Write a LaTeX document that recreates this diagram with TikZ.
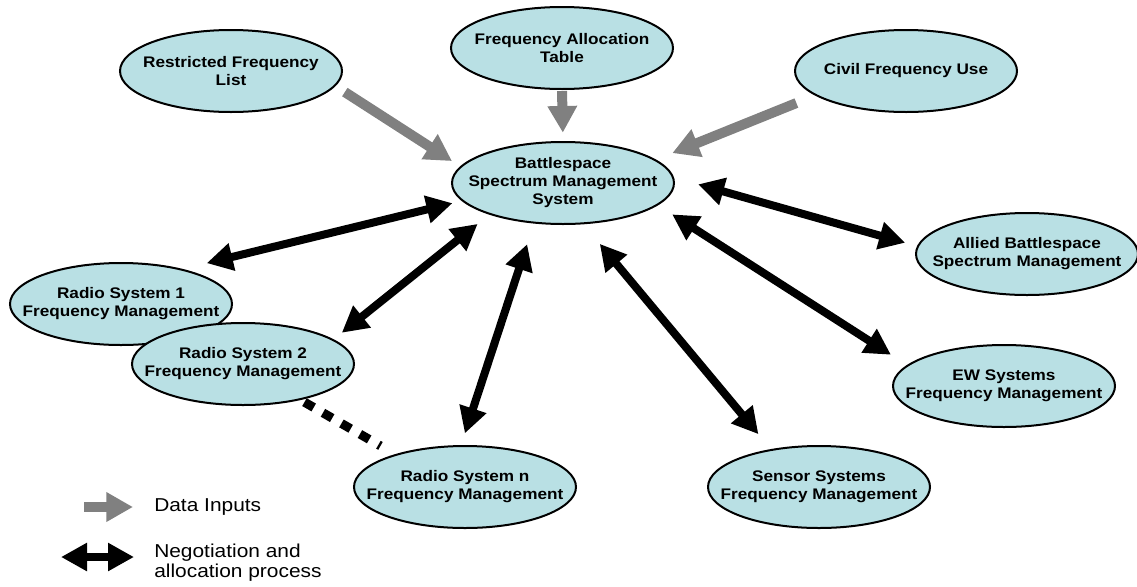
\documentclass[tikz,border=0pt]{standalone}
\usepackage{fontspec}
\usepackage{tikz}
\usetikzlibrary{shapes.geometric, arrows.meta}
\newfontfamily\diagfont[FakeStretch=1.12]{Liberation Sans}
\definecolor{bubblefill}{RGB}{185,224,228}
\definecolor{feedgray}{RGB}{128,128,128}

\begin{document}
\begin{tikzpicture}[x=0.75pt,y=0.75pt,yscale=-1,xscale=1,
    bubble/.style={ellipse, draw=black, line width=1.5pt, fill=bubblefill,
      minimum width=166.5pt, minimum height=61.5pt, inner sep=0pt, outer sep=0pt},
    bubtxt/.style={inner sep=0pt, align=center,
      font=\diagfont\bfseries\fontsize{11.5}{13.5}\selectfont},
    legtxt/.style={inner sep=0pt, align=left,
      font=\diagfont\fontsize{14}{15}\selectfont},
    feed/.style={draw=feedgray, line width=7.5pt, >={Triangle[length=20pt,width=21pt]}, ->},
    negot/.style={draw=black, line width=6pt, >={Triangle[length=19.5pt,width=20pt]}, <->},
    link/.style={draw=black, line width=6.75pt, dash pattern=on 8pt off 8pt}]
    \useasboundingbox (0,0) rectangle (1137,586);

    % Ellipses
    \node[bubble, label={[bubtxt]center:{Restricted Frequency\\List}}] (rfl) at (231,71) {};
    \node[bubble, label={[bubtxt]center:{Frequency Allocation\\Table}}] (fat) at (562,48) {};
    \node[bubble, label={[bubtxt]center:{Civil Frequency Use}}] (cfu) at (906,71) {};
    \node[bubble, label={[bubtxt]center:{Battlespace\\Spectrum Management\\System}}] (bsm) at (563,183) {};
    \node[bubble, label={[bubtxt]center:{Allied Battlespace\\Spectrum Management}}] (absm) at (1027,254) {};
    \node[bubble, label={[bubtxt]center:{EW Systems\\Frequency Management}}] (ew) at (1004,386) {};
    \node[bubble, label={[bubtxt]center:{Sensor Systems\\Frequency Management}}] (ssfm) at (819,487) {};
    \node[bubble, label={[bubtxt]center:{Radio System n\\Frequency Management}}] (rsn) at (465,487) {};
    \node[bubble, label={[bubtxt]center:{Radio System 1\\Frequency Management}}] (rs1) at (121,304) {};
    \node[bubble, label={[bubtxt]center:{Radio System 2\\Frequency Management}}] (rs2) at (243,364) {};

    % Data inputs
    \draw[feed, shorten <=9pt, shorten >=8pt] (rfl.-8) -- (bsm.171);
    \draw[feed, shorten <=1.5pt, shorten >=7pt] (fat.-90) -- (bsm.90);
    \draw[feed, shorten <=16pt, shorten >=14pt] (cfu.195) -- (bsm.14);

    % Negotiation
    \draw[negot, shorten <=20pt, shorten >=8pt] (rs1.30) -- (bsm.-170);
    \draw[negot, shorten <=8.6pt, shorten >=12pt] (rs2.15) -- (bsm.-157);
    \draw[negot, shorten <=10pt, shorten >=17pt] (rsn.96) -- (bsm.-126);
    \draw[negot, shorten <=20pt, shorten >=15.4pt] (bsm.-64) -- (ssfm.142);
    \draw[negot, shorten <=13.4pt, shorten >=15pt] (bsm.-13) -- (ew.168);
    \draw[negot, shorten <=19.6pt, shorten >=10pt] (bsm.3) -- (absm.176);

    % Radio systems in between
    \draw[link, shorten <=4.3pt, shorten >=13.5pt] (rs2.-32) -- (rsn.155);

    % Legend
    \coordinate (din-a) at (84,507);
    \coordinate (din-b) at (133,507);
    \coordinate (nap-a) at (61,557);
    \coordinate (nap-b) at (134,557);
    \draw[feed] (din-a) -- (din-b);
    \draw[negot] (nap-a) -- (nap-b);
    \node[legtxt, anchor=west] (din) at (154,507) {Data Inputs};
    \node[legtxt, anchor=west] (nap) at (154,563) {Negotiation and\\allocation process};
\end{tikzpicture}
\end{document}
